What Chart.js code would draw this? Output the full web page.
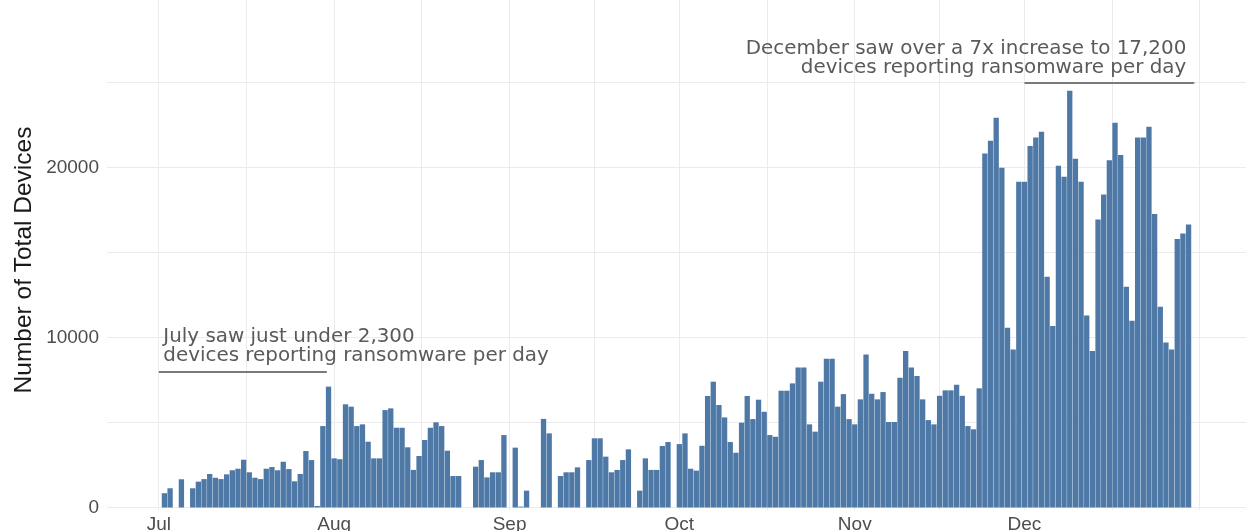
<!DOCTYPE html>
<html>
<head>
<meta charset="utf-8">
<script src="https://cdn.jsdelivr.net/npm/chart.js@4/dist/chart.umd.min.js"></script>
<style>
  html, body { margin: 0; padding: 0; background: #ffffff; }
  #wrap { width: 1246px; height: 531px; position: relative; }
</style>
</head>
<body>
<div id="wrap"><canvas id="chart"></canvas></div>
<script>
// ---- DATA (daily number of devices reporting ransomware) ----
const monthNames   = ['Jul', 'Aug', 'Sep', 'Oct', 'Nov', 'Dec'];
const monthLengths = [31, 31, 30, 31, 30, 31];

const julDevices = [null, 870, 1160, null, 1690, null, 1160, 1550, 1700, 2000,
  1780, 1700, 1980, 2220, 2310, 2840, 2100, 1780, 1700, 2310,
  2410, 2220, 2720, 2290, 1570, 2000, 3350, 2820, 120, 4820, 7140];
const augDevices = [2920, 2870, 6100, 5960, 4820, 4920, 3900, 2920, 2920, 5760,
  5860, 4720, 4720, 3570, 2240, 3060, 4000, 4720, 5040, 4820,
  3370, 1880, 1880, null, null, 2430, 2820, 1800, 2100, 2100, 4290];
const sepDevices = [null, 3550, 80, 1020, null, null, 5240, 4390, null, 1880,
  2100, 2100, 2390, null, 2820, 4100, 4100, 3020, 2100, 2240,
  2820, 3450, null, 1020, 2920, 2240, 2240, 3650, 3880, null];
const octDevices = [3760, 4390, 2310, 2200, 3660, 6590, 7430, 6060, 5330, 3880,
  3250, 5020, 6590, 5230, 6370, 5660, 4290, 4190, 6900, 6900,
  7330, 8270, 8270, 4920, 4490, 7430, 8780, 8780, 5960, 6700, 5230];
const novDevices = [4920, 6390, 9030, 6720, 6390, 6820, 5060, 5060, 7660, 9230,
  8270, 7760, 6390, 5170, 4920, 6600, 6920, 6920, 7250, 6600,
  4820, 4630, 7040, 20850, 21600, 22950, 20010, 10600, 9330, 19190];
const decDevices = [19190, 21290, 21800, 22130, 13600, 10700, 20130, 19480, 24540, 20540,
  19190, 11330, 9230, 16970, 18440, 20460, 22660, 20760, 13010, 11010,
  21800, 21800, 22420, 17290, 11840, 9740, 9330, 15820, 16150, 16680, null];

const yTickValues = [0, 5000, 10000, 15000, 20000, 25000];
const yTickLabels = ['0', '', '10000', '', '20000', ''];

const yAxisTitle = 'Number of Total Devices';
const julyNote = ['July saw just under 2,300', 'devices reporting ransomware per day'];
const decNote  = ['December saw over a 7x increase to 17,200', 'devices reporting ransomware per day'];
const julyNoteLevel = 8000;   // value of the July reference segment
const decNoteLevel  = 25000;  // value of the December reference segment

// ---- build day-indexed points (day 0 = Jul 1) ----
const monthSeries = [julDevices, augDevices, sepDevices, octDevices, novDevices, decDevices];
const points = [];
const monthStarts = [];
let dayCursor = 0;
monthSeries.forEach((arr, m) => {
  monthStarts.push(dayCursor);
  arr.forEach((v, i) => { if (v !== null) points.push({ x: dayCursor + i, y: v }); });
  dayCursor += monthLengths[m];
});
const yearEnd = dayCursor; // Jan 1

const majorX = monthStarts.concat([yearEnd]);
const minorX = [];
for (let i = 0; i < majorX.length - 1; i++) minorX.push((majorX[i] + majorX[i + 1]) / 2);
const xTickValues = majorX.concat(minorX).sort((a, b) => a - b);
const xLabelMap = {};
monthStarts.forEach((d, i) => { xLabelMap[d] = monthNames[i]; });

// annotation layout (positions in data units)
const notes = [
  { lines: julyNote, x: 0.8,   y: 9780,  align: 'left',  seg: [0, 29.7],  level: julyNoteLevel },
  { lines: decNote,  x: 181.6, y: 26690, align: 'right', seg: [153, 183], level: decNoteLevel }
];

const notePlugin = {
  id: 'notes',
  afterDatasetsDraw(chart) {
    const { ctx, chartArea } = chart;
    const xs = chart.scales.x, ys = chart.scales.y;
    ctx.save();
    notes.forEach(n => {
      ctx.strokeStyle = '#7a7a7a';
      ctx.lineWidth = 2.2;
      ctx.beginPath();
      const yy = ys.getPixelForValue(n.level);
      ctx.moveTo(xs.getPixelForValue(n.seg[0]), yy);
      ctx.lineTo(xs.getPixelForValue(n.seg[1]), yy);
      ctx.stroke();
      ctx.fillStyle = '#5a5a5a';
      ctx.font = '19.9px "DejaVu Sans"';
      ctx.textAlign = n.align;
      ctx.textBaseline = 'alphabetic';
      const px = xs.getPixelForValue(n.x);
      const py = ys.getPixelForValue(n.y);
      n.lines.forEach((t, i) => ctx.fillText(t, px, py + i * 19));
    });
    // y-axis title
    ctx.translate(24, (chartArea.top + chartArea.bottom) / 2 + 5);
    ctx.rotate(-Math.PI / 2);
    ctx.fillStyle = '#1a1a1a';
    ctx.font = '24.5px "Liberation Sans"';
    ctx.textAlign = 'center';
    ctx.textBaseline = 'middle';
    ctx.fillText(yAxisTitle, 0, 0);
    ctx.restore();
  }
};

function zeroPad(s) { s.paddingTop = 0; s.paddingBottom = 0; s.paddingLeft = 0; s.paddingRight = 0; }

new Chart(document.getElementById('chart'), {
  type: 'bar',
  data: {
    datasets: [{
      data: points,
      backgroundColor: '#4e79a7',
      borderWidth: 0,
      barPercentage: 1,
      categoryPercentage: 0.94
    }]
  },
  options: {
    responsive: true,
    maintainAspectRatio: false,
    animation: false,
    layout: { padding: 0 },
    plugins: { legend: { display: false }, tooltip: { enabled: false } },
    scales: {
      x: {
        type: 'linear',
        min: -9.15,
        max: 192.15,
        offset: false,
        grid: { offset: false, color: '#ebebeb', lineWidth: 1, drawTicks: false },
        border: { display: false },
        afterBuildTicks: s => { s.ticks = xTickValues.map(v => ({ value: v })); },
        ticks: {
          autoSkip: false, maxRotation: 0, minRotation: 0, padding: 3,
          color: '#4d4d4d',
          font: { family: 'Liberation Sans', size: 19 },
          callback: v => (xLabelMap[v] !== undefined ? xLabelMap[v] : '')
        },
        afterFit: s => { s.height = 21; zeroPad(s); }
      },
      y: {
        min: -118,
        max: 29882,
        grid: { color: '#ebebeb', lineWidth: 1, drawTicks: false },
        border: { display: false },
        afterBuildTicks: s => { s.ticks = yTickValues.map(v => ({ value: v })); },
        ticks: {
          padding: 8,
          color: '#4d4d4d',
          font: { family: 'Liberation Sans', size: 19 },
          callback: (v, i) => yTickLabels[i]
        },
        title: { display: false },
        afterFit: s => { s.width = 107; zeroPad(s); }
      }
    }
  },
  plugins: [notePlugin]
});
</script>
</body>
</html>
